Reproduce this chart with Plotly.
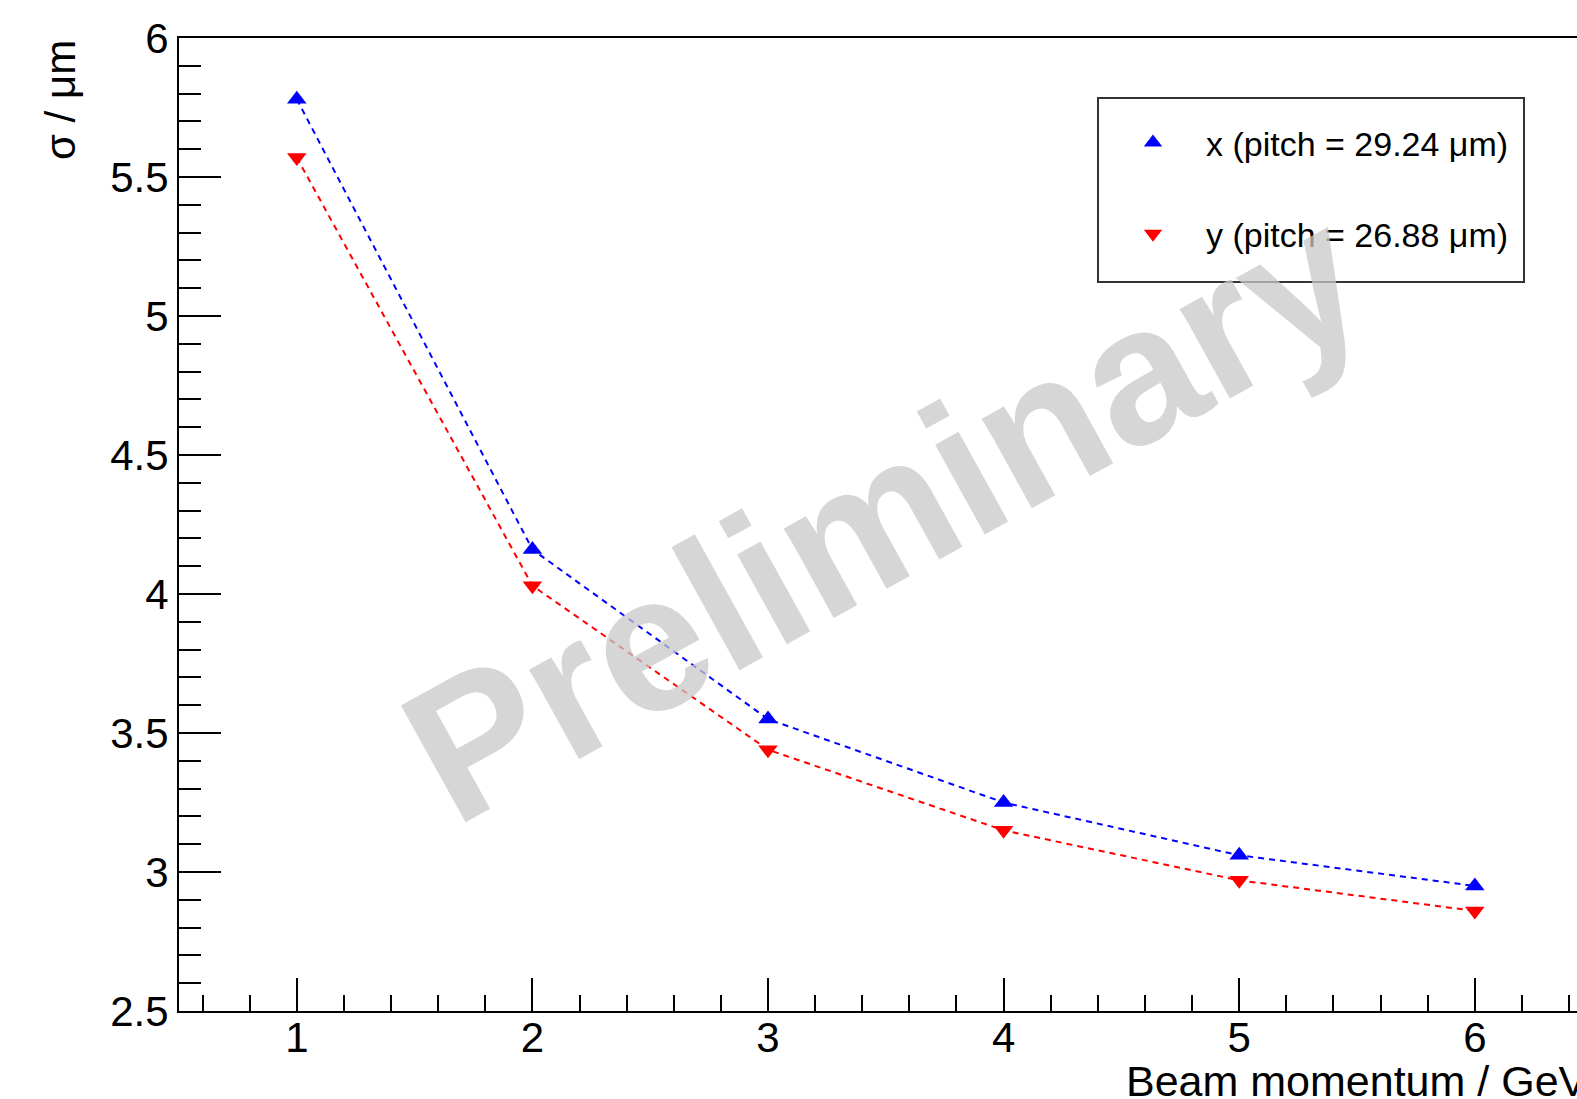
import plotly.graph_objects as go

# ---- data ----
momentum = [1, 2, 3, 4, 5, 6]
sigma_x = [5.78, 4.16, 3.55, 3.25, 3.06, 2.95]
sigma_y = [5.57, 4.03, 3.44, 3.15, 2.97, 2.86]
label_x = "x (pitch = 29.24 \u03bcm)"
label_y = "y (pitch = 26.88 \u03bcm)"
x_ticks = [1, 2, 3, 4, 5, 6]
y_ticks = [2.5, 3, 3.5, 4, 4.5, 5, 5.5, 6]
y_ticktext = ["2.5", "3", "3.5", "4", "4.5", "5", "5.5", "6"]

FONT = "Liberation Sans, Arial, Helvetica, sans-serif"
W, H = 1577, 1099
ML, MT, MB = 179, 38, 88
plot_w = W - ML
plot_h = H - MT - MB
px_per_unit = 235.6
x0 = 0.5
x1 = x0 + plot_w / px_per_unit

BLUE = "rgb(0,0,255)"
RED = "rgb(255,0,0)"
MSIZE = 17

fig = go.Figure()
fig.add_trace(go.Scatter(
    x=momentum, y=sigma_x, mode="lines+markers", name=label_x,
    showlegend=False,
    line=dict(color=BLUE, width=2, dash="6px,5px"),
    marker=dict(symbol="triangle-up", size=MSIZE, color=BLUE),
))
fig.add_trace(go.Scatter(
    x=momentum, y=sigma_y, mode="lines+markers", name=label_y,
    showlegend=False,
    line=dict(color=RED, width=2, dash="6px,5px"),
    marker=dict(symbol="triangle-down", size=MSIZE, color=RED),
))
# legend entries (markers only, as in the reference)
fig.add_trace(go.Scatter(
    x=[None], y=[None], mode="markers", name=label_x, legendgroup="a",
    marker=dict(symbol="triangle-up", size=MSIZE, color=BLUE),
))
fig.add_trace(go.Scatter(
    x=[None], y=[None], mode="markers", name=label_y, legendgroup="b",
    marker=dict(symbol="triangle-down", size=MSIZE, color=RED),
))

def px2paper_x(px):
    return (px - ML) / plot_w

def px2paper_y(py):
    return (H - MB - py) / plot_h

fig.update_layout(
    width=W, height=H,
    margin=dict(l=ML, r=0, t=MT, b=MB),
    paper_bgcolor="white", plot_bgcolor="white",
    font=dict(family=FONT, color="black"),
    showlegend=True,
    legend=dict(
        x=px2paper_x(1100), y=px2paper_y(114), xanchor="left", yanchor="top",
        bgcolor="rgba(0,0,0,0)", borderwidth=0,
        font=dict(family=FONT, size=34, color="black"),
        itemwidth=96, traceorder="grouped", tracegroupgap=44,
    ),
    xaxis=dict(
        range=[x0, x1], showgrid=False, zeroline=False,
        showline=True, linecolor="black", linewidth=2, mirror=True,
        ticks="inside", ticklen=33, tickwidth=2, tickcolor="black",
        tickvals=x_ticks, ticktext=[str(v) for v in x_ticks],
        tickfont=dict(family=FONT, size=42, color="black"),
        ticklabelstandoff=-11,
        minor=dict(ticks="inside", ticklen=16, tickwidth=2, tickcolor="black",
                   dtick=0.2, tick0=0),
    ),
    yaxis=dict(
        range=[2.5, 6], showgrid=False, zeroline=False,
        showline=True, linecolor="black", linewidth=2, mirror=False,
        ticks="inside", ticklen=42, tickwidth=2, tickcolor="black",
        tickvals=y_ticks, ticktext=y_ticktext,
        tickfont=dict(family=FONT, size=42, color="black"),
        minor=dict(ticks="inside", ticklen=22, tickwidth=2, tickcolor="black",
                   dtick=0.1, tick0=0),
    ),
)

# legend frame
fig.add_shape(type="rect", xref="paper", yref="paper",
              x0=px2paper_x(1098), x1=px2paper_x(1524),
              y0=px2paper_y(282), y1=px2paper_y(98),
              line=dict(color="#333333", width=2), fillcolor="white", layer="above")

# axis titles
fig.add_annotation(text="\u03c3 / \u03bcm", xref="paper", yref="paper",
                   x=px2paper_x(60), y=1.0, xanchor="center", yanchor="top",
                   textangle=-90, showarrow=False,
                   font=dict(family=FONT, size=42, color="black"))
fig.add_annotation(text="Beam momentum / GeV", xref="paper", yref="paper",
                   x=px2paper_x(1590), y=px2paper_y(1081),
                   xanchor="right", yanchor="middle", showarrow=False,
                   font=dict(family=FONT, size=43, color="black"))

# watermark
fig.add_annotation(text="<b>Preliminary</b>", xref="paper", yref="paper",
                   x=px2paper_x(883), y=px2paper_y(513),
                   xanchor="center", yanchor="middle", textangle=-29,
                   showarrow=False,
                   font=dict(family=FONT, size=194, color="rgba(200,200,200,0.75)"))

fig.write_html(
    "out.html",
    config={"displayModeBar": False},
    post_script="document.body.style.margin='0px';"
                "document.body.style.overflow='hidden';",
)
